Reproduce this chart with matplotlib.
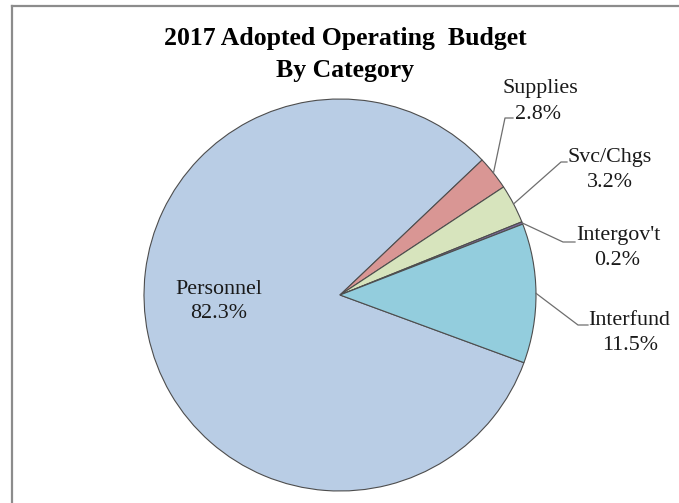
import numpy as np
import matplotlib
matplotlib.use("Agg")
import matplotlib.pyplot as plt
from matplotlib.lines import Line2D

categories = ["Personnel", "Supplies", "Svc/Chgs", "Intergov't", "Interfund"]
shares = [82.3, 2.8, 3.2, 0.2, 11.5]
colors = ["#B9CDE5", "#D99694", "#D7E4BD", "#7F6A9E", "#93CDDD"]

W, H = 679, 503
fig = plt.figure(figsize=(W / 100, H / 100), dpi=100)
fig.patch.set_facecolor("white")

plt.rcParams["font.family"] = ["Liberation Serif", "DejaVu Serif"]

# pie centre and radius in pixels
cx, cy, r = 340, 295, 196
ax = fig.add_axes([(cx - r) / W, (H - cy - r) / H, 2 * r / W, 2 * r / H])
wedges, _ = ax.pie(shares, colors=colors, startangle=-20.2, counterclock=False,
                   radius=1.0,
                   wedgeprops=dict(edgecolor="#4d4d4d", linewidth=0.8))
ax.set_xlim(-1, 1)
ax.set_ylim(-1, 1)
ax.set_aspect("equal")
ax.axis("off")


def px2d(px, py):
    return (px - cx) / r, (cy - py) / r


# outer frame (top and left edges)
fig.add_artist(Line2D([12 / W, 1], [1 - 6 / H, 1 - 6 / H], transform=fig.transFigure,
                      color="#8c8c8c", lw=1.6))
fig.add_artist(Line2D([12 / W, 12 / W], [0, 1 - 6 / H], transform=fig.transFigure,
                      color="#8c8c8c", lw=1.6))

# title, two lines placed by baseline
fig.text(345 / W, 1 - 45 / H, "2017 Adopted Operating  Budget", ha="center",
         va="baseline", fontsize=18.5, fontweight="bold")
fig.text(345 / W, 1 - 77 / H, "By Category", ha="center", va="baseline",
         fontsize=18.5, fontweight="bold")

LABEL_FS = 15.8
TEXT_COLOR = "#1a1a1a"


def two_line_label(name, pct, x_name, x_pct, base1, base2):
    nx, ny = px2d(x_name, base1)
    ax.text(nx, ny, name, ha="center", va="baseline", fontsize=LABEL_FS,
            color=TEXT_COLOR, clip_on=False)
    px_, py_ = px2d(x_pct, base2)
    ax.text(px_, py_, f"{pct:.1f}%", ha="center", va="baseline", fontsize=LABEL_FS,
            color=TEXT_COLOR, clip_on=False)


# inside label for the large slice
two_line_label(categories[0], shares[0], 219, 219, 294, 318)

# outside labels with elbow leader lines:
# (elbow px, end px, name centre x, pct centre x, name baseline, pct baseline)
leaders = {
    1: ((505, 118), (513, 118), 540, 538, 93, 119),
    2: ((561, 162), (567, 162), 610, 610, 162, 187),
    3: ((563, 242), (575, 242), 618, 617, 240, 265),
    4: ((578, 325), (588, 325), 629, 630, 325, 350),
}
for i, (elbow, end, xn, xp, b1, b2) in leaders.items():
    w = wedges[i]
    mid = np.deg2rad((w.theta1 + w.theta2) / 2)
    sx, sy = np.cos(mid), np.sin(mid)
    ex, ey = px2d(*elbow)
    nx, ny = px2d(*end)
    ax.plot([sx, ex, nx], [sy, ey, ny], color="#6e6e6e", lw=0.9, clip_on=False)
    two_line_label(categories[i], shares[i], xn, xp, b1, b2)

fig.savefig("out.png", dpi=100)
